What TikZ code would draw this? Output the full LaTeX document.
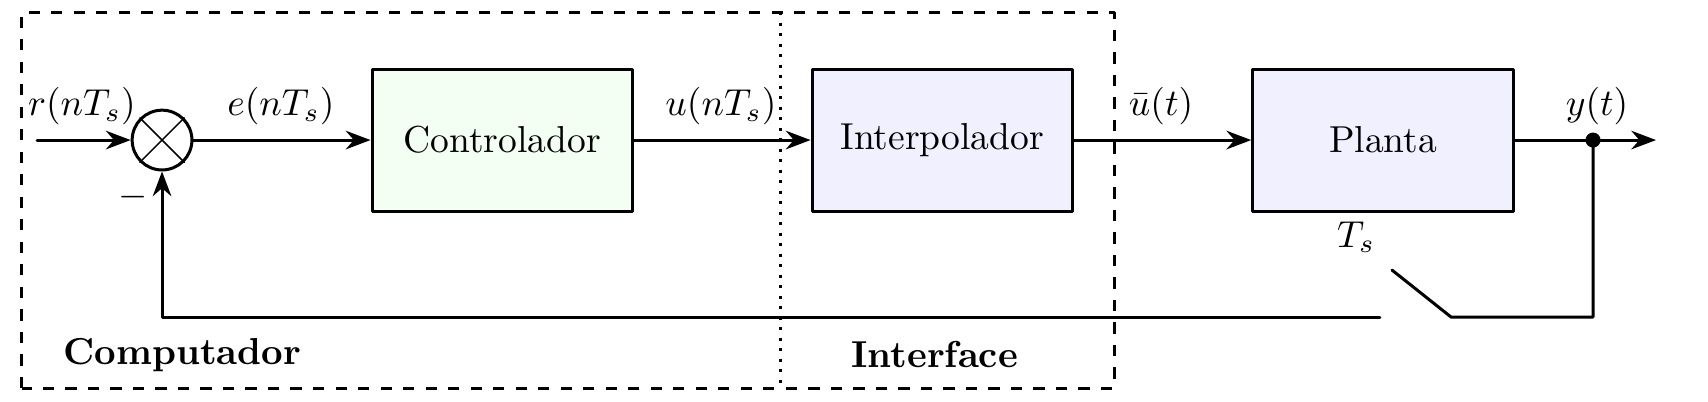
\documentclass[tikz,border=0pt]{standalone}
\usetikzlibrary{arrows.meta}
\begin{document}
\begin{tikzpicture}[>=Stealth,line join=round,line cap=round,thick]
	\tikzset{bloco/.style={draw,minimum height=1.33cm,minimum width=2.44cm,inner sep=0pt},
		rotulo/.style={inner sep=0pt}}
	\useasboundingbox (0,0) rectangle (16,3.757);
	% regioes
	\draw[dashed,line cap=butt] (0.206,0.122) rectangle (10.436,3.644);
	\draw[dotted,line cap=butt] (7.307,3.644) -- (7.307,0.122);
	\node[rotulo] (comp) at (1.707,0.431) {\textbf{Computador}};
	\node[rotulo] (intf) at (8.755,0.440) {\textbf{Interface}};
	% blocos
	\node[draw,circle,minimum size=0.56cm,inner sep=0pt] (soma) at (1.518,2.445) {};
	\draw[thin] (soma.45) -- (soma.225) (soma.135) -- (soma.-45);
	\node[bloco,fill=green!5] (ctrl) at (4.705,2.445) {Controlador};
	\node[bloco,fill=blue!6] (interp) at (8.827,2.445) {Interpolador};
	\node[bloco,fill=blue!6] (planta) at (12.955,2.445) {Planta};
	% pontos auxiliares
	\coordinate (ent) at (0.347,2.445);
	\coordinate (saida) at (15.513,2.445);
	\coordinate (ramo) at (14.923,2.445);
	\coordinate (chB) at (14.923,0.787);
	\coordinate (chA) at (13.593,0.787);
	\coordinate (chP) at (13.040,1.227);
	\coordinate (chE) at (12.927,0.787);
	% ligacoes
	\draw[->] (ent) -- (soma);
	\draw[->] (soma) -- (ctrl);
	\draw[->] (ctrl) -- (interp);
	\draw[->] (interp) -- (planta);
	\draw[->] (planta) -- (saida);
	\filldraw (ramo) circle (1.6pt);
	\draw (ramo) -- (chB) -- (chA) -- (chP);
	\draw[->] (chE) -- (soma |- chE) -- (soma);
	% sinais
	\node[rotulo] (r) at (0.768,2.763) {$r(nT_s)$};
	\node[rotulo] (e) at (2.632,2.763) {$e(nT_s)$};
	\node[rotulo] (u) at (6.754,2.763) {$u(nT_s)$};
	\node[rotulo] (ub) at (10.876,2.763) {$\bar{u}(t)$};
	\node[rotulo] (y) at (14.960,2.763) {$y(t)$};
	\node[rotulo] (menos) at (1.246,1.911) {$-$};
	\node[rotulo] (Ts) at (12.703,1.536) {$T_s$};
\end{tikzpicture}
\end{document}
